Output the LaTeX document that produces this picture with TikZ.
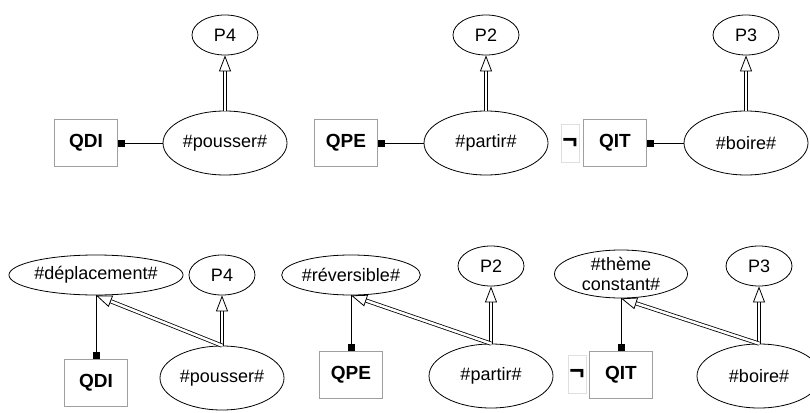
\documentclass[tikz,border=0pt]{standalone}
\usepackage{fontspec}
\setmainfont{Liberation Sans}
\usetikzlibrary{shapes.geometric,arrows.meta}
\begin{document}
\begin{tikzpicture}[x=1pt, y=-1pt, font=\fontsize{18}{20}\selectfont,
  sem/.style={draw, ellipse, line width=0.8pt, inner sep=0pt, align=center},
  pnode/.style={sem, minimum width=66pt, minimum height=40pt},
  verb/.style={sem, minimum width=124pt, minimum height=64pt},
  qual/.style={draw=gray!75, line width=1pt, minimum width=63pt, minimum height=47pt, font=\fontsize{19}{20}\selectfont\bfseries},
  neg/.style={draw=gray!25, line width=0.8pt, minimum width=18pt, minimum height=38pt, inner sep=0pt, font=\fontsize{26}{26}\selectfont\bfseries},
  link/.style={line width=0.8pt, {Square[length=7pt,width=7pt]}-},
  isa/.style={double, double distance=2.5pt, line width=0.8pt, -{Triangle[open, length=16pt, width=12pt]}}
]
\useasboundingbox (0,0) rectangle (810,412);
\node[pnode] (p4) at (225,35) {P4};
\node[verb] (pousser) at (225,143) {\#pousser\#};
\node[qual] (qdi) at (86,143) {QDI};
\node[pnode] (p2) at (486,35) {P2};
\node[verb] (partir) at (486,143) {\#partir\#};
\node[qual] (qpe) at (346,143) {QPE};
\node[pnode] (p3) at (746,35) {P3};
\node[verb] (boire) at (746,143) {\#boire\#};
\node[qual] (qit) at (615,143) {QIT};
\node[neg] (nqit) at (570,143) {¬};

\node[sem, minimum width=168pt, minimum height=40pt] (depl) at (96,275) {\#déplacement\#};
\node[pnode] (p4b) at (222,275) {P4};
\node[qual] (qdib) at (96,383) {QDI};
\node[verb] (pousserb) at (222,378) {\#pousser\#};
\node[sem, minimum width=133pt, minimum height=40pt] (rever) at (351,275) {\#réversible\#};
\node[pnode] (p2b) at (491,266) {P2};
\node[qual] (qpeb) at (351,375) {QPE};
\node[verb] (partirb) at (491,376) {\#partir\#};
\node[sem, minimum width=133pt, minimum height=48pt] (theme) at (621,274) {\#thème\\constant\#};
\node[pnode] (p3b) at (759,266) {P3};
\node[qual] (qitb) at (621,375) {QIT};
\node[neg] (nqitb) at (577,374) {¬};
\node[verb] (boireb) at (759,376) {\#boire\#};

\draw[link] (qdi) -- (pousser);
\draw[link] (qpe) -- (partir);
\draw[link] (qit) -- (boire);
\draw[isa] (pousser) -- (p4);
\draw[isa] (partir) -- (p2);
\draw[isa] (boire) -- (p3);

\draw[link] (qdib) -- (depl);
\draw[link] (qpeb) -- (rever);
\draw[link] (qitb) -- (theme);
\draw[isa] (pousserb.north) -- (p4b);
\draw[isa] (pousserb.north) -- (depl.south);
\draw[isa] (partirb.north) -- (p2b);
\draw[isa] (partirb.north) -- (rever.south);
\draw[isa] (boireb.north) -- (p3b);
\draw[isa] (boireb.north) -- (theme.south);
\end{tikzpicture}
\end{document}
